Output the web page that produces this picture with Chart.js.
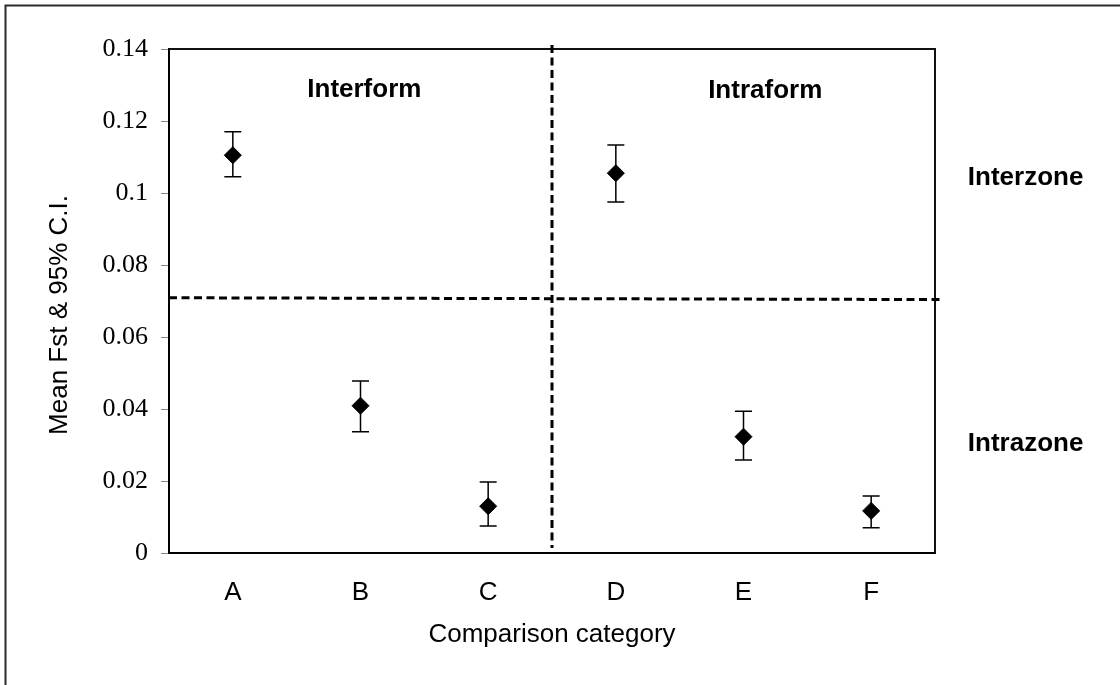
<!DOCTYPE html>
<html>
<head>
<meta charset="utf-8">
<script src="https://cdn.jsdelivr.net/npm/chart.js@4/dist/chart.umd.min.js"></script>
<style>
    body { margin: 0; background: #fff; }
    canvas { display: block; }
</style>
</head>
<body>
<canvas id="chart" width="1120" height="685"></canvas>
<script>
let categories = ["A", "B", "C", "D", "E", "F"]
let meanFst = [0.1105, 0.0409, 0.0130, 0.1055, 0.0323, 0.0117]
let ciLower = [0.1045, 0.0337, 0.0075, 0.0975, 0.0258, 0.0070]
let ciUpper = [0.1170, 0.0478, 0.0197, 0.1133, 0.0394, 0.0158]

let yTickLabels = ["0", "0.02", "0.04", "0.06", "0.08", "0.1", "0.12", "0.14"]

// separators: form split between C and D, zone split line (slightly tilted)
let formSplit = 2.5
let zoneSplit = [0.0709, 0.0704]

let quadrantLabels = [
    { text: "Interform", x: 1.03, y: 0.1287 },
    { text: "Intraform", x: 4.17, y: 0.1285 },
    { text: "Interzone", x: 6.21, y: 0.1042 },
    { text: "Intrazone", x: 6.21, y: 0.0304 }
]

let yTitle = "Mean Fst & 95% C.I."
let xTitle = "Comparison category"

let sans = "'Liberation Sans', Arial, sans-serif"
let serif = "'Liberation Serif', 'Times New Roman', serif"

let decorations = {
    id: "decorations",
    beforeDraw(chart) {
        let ctx = chart.ctx
        ctx.save()
        ctx.fillStyle = "#fff"
        ctx.fillRect(0, 0, chart.width, chart.height)
        // outer frame (only top and left visible)
        ctx.strokeStyle = "#2a2a2a"
        ctx.lineWidth = 2
        ctx.beginPath()
        ctx.moveTo(5.5, chart.height)
        ctx.lineTo(5.5, 5.5)
        ctx.lineTo(chart.width, 5.5)
        ctx.stroke()
        ctx.restore()
    },
    beforeDatasetsDraw(chart) {
        let ctx = chart.ctx
        let x = chart.scales.x
        let y = chart.scales.y
        let area = chart.chartArea
        ctx.save()

        // top and right frame of plot area
        ctx.strokeStyle = "#111"
        ctx.lineWidth = 2
        ctx.beginPath()
        ctx.moveTo(area.left, area.top)
        ctx.lineTo(area.right, area.top)
        ctx.lineTo(area.right, area.bottom)
        ctx.stroke()

        // dashed separators
        ctx.setLineDash([8, 4.5])
        ctx.lineWidth = 3
        ctx.strokeStyle = "#000"
        let sx = x.getPixelForValue(formSplit)
        ctx.beginPath()
        ctx.moveTo(sx, area.top - 4)
        ctx.lineTo(sx, area.bottom - 5)
        ctx.stroke()

        ctx.beginPath()
        ctx.moveTo(area.left, y.getPixelForValue(zoneSplit[0]))
        ctx.lineTo(area.right + 7, y.getPixelForValue(zoneSplit[1]))
        ctx.stroke()
        ctx.setLineDash([])

        // error bars
        ctx.lineWidth = 1.5
        ctx.strokeStyle = "#000"
        for(let i = 0; i < categories.length; i++) {
            let px = x.getPixelForValue(i)
            let top = y.getPixelForValue(ciUpper[i])
            let bottom = y.getPixelForValue(ciLower[i])
            ctx.beginPath()
            ctx.moveTo(px, top)
            ctx.lineTo(px, bottom)
            ctx.moveTo(px - 8.5, top)
            ctx.lineTo(px + 8.5, top)
            ctx.moveTo(px - 8.5, bottom)
            ctx.lineTo(px + 8.5, bottom)
            ctx.stroke()
        }
        ctx.restore()
    },
    afterDraw(chart) {
        let ctx = chart.ctx
        let x = chart.scales.x
        let y = chart.scales.y
        let area = chart.chartArea
        ctx.save()
        ctx.fillStyle = "#000"
        ctx.textAlign = "center"
        ctx.textBaseline = "middle"

        ctx.font = "bold 26px " + sans
        for(let label of quadrantLabels) {
            ctx.fillText(label.text, x.getPixelForValue(label.x), y.getPixelForValue(label.y))
        }

        ctx.font = "26px " + sans
        ctx.fillText(xTitle, (area.left + area.right) / 2, 635)

        ctx.translate(60, 315)
        ctx.rotate(-Math.PI / 2)
        ctx.fillText(yTitle, 0, 0)
        ctx.restore()
    }
}

window.onload = () => {
    let ctx = document.querySelector("#chart").getContext("2d")

    new Chart(ctx, {
        type: "line",
        data: {
            labels: categories,
            datasets: [{
                label: "Mean Fst",
                data: meanFst,
                showLine: false,
                pointStyle: "rectRot",
                pointRadius: 8.5,
                pointHoverRadius: 8.5,
                pointBackgroundColor: "#000",
                pointBorderColor: "#000",
                pointBorderWidth: 1
            }]
        },
        options: {
            responsive: false,
            animation: false,
            events: [],
            layout: {
                padding: { left: 0, right: 185, top: 49, bottom: 0 }
            },
            plugins: {
                legend: { display: false },
                tooltip: { enabled: false }
            },
            scales: {
                x: {
                    offset: true,
                    grid: { display: false, drawTicks: false },
                    border: { display: true, color: "#000", width: 2 },
                    ticks: {
                        padding: 24,
                        color: "#000",
                        font: { family: sans, size: 26 }
                    },
                    afterFit: scale => { scale.height = 132 }
                },
                y: {
                    min: 0,
                    max: 0.14,
                    grid: {
                        drawOnChartArea: false,
                        drawTicks: true,
                        tickLength: 8,
                        tickColor: "#888",
                        lineWidth: 1
                    },
                    border: { display: true, color: "#000", width: 2 },
                    ticks: {
                        stepSize: 0.02,
                        padding: 13,
                        color: "#000",
                        font: { family: serif, size: 26 },
                        callback: (value, index) => yTickLabels[index]
                    },
                    afterFit: scale => { scale.width = 169 }
                }
            }
        },
        plugins: [decorations]
    })
}
</script>
</body>
</html>
